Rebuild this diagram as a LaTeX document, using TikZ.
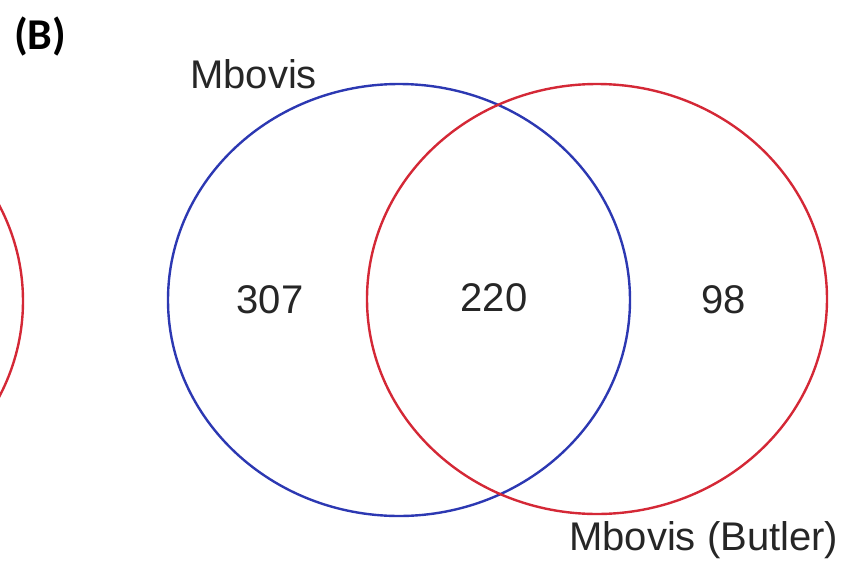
\documentclass[tikz,border=0pt]{standalone}
\usepackage{fontspec}
\setmainfont{Liberation Sans}
\newfontfamily\panelfont{Carlito}
\definecolor{setblue}{RGB}{44,56,178}
\definecolor{setred}{RGB}{212,40,54}
\tikzset{
  setline/.style={line width=1.8pt},
  settext/.style={inner sep=0pt, font=\fontsize{30}{36}\selectfont, text=black!85},
  panel/.style={inner sep=0pt, font=\panelfont\bfseries\fontsize{33}{38}\selectfont}
}
\begin{document}
\begin{tikzpicture}[x=0.75pt,y=-0.75pt]
  \useasboundingbox (0,0) rectangle (851,561);
  \clip (0,0) rectangle (851,561);
  % neighbouring panel's circle, cut by the left edge
  \draw[setline, setred] (-207,301) ellipse [x radius=230, y radius=216];
  % the two sets
  \draw[setline, setblue] (399,300) ellipse [x radius=231, y radius=216];
  \draw[setline, setred] (597,299) ellipse [x radius=230, y radius=215];
  % panel letter and set names
  \node[panel, anchor=base west] (plabel) at (14,49) {(B)};
  \node[settext, anchor=base west] (nameA) at (190,88) {Mbovis};
  \node[settext, anchor=base west] (nameB) at (569,550) {Mbovis (Butler)};
  % region counts
  \node[settext, anchor=base] (onlyA) at (270,313) {307};
  \node[settext, anchor=base] (both) at (494,311) {220};
  \node[settext, anchor=base] (onlyB) at (724,313) {98};
\end{tikzpicture}
\end{document}
